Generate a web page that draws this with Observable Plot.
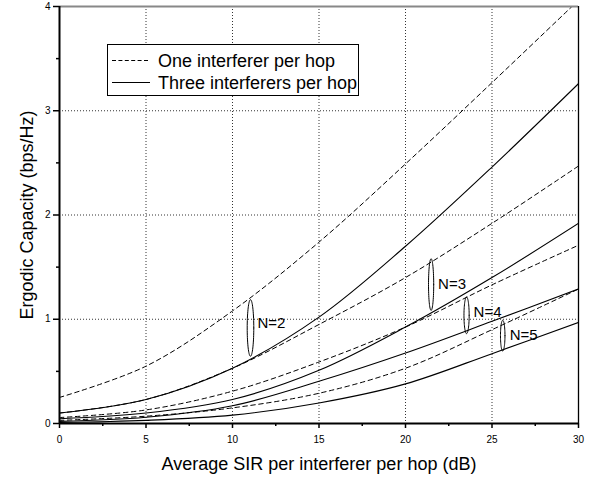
<!DOCTYPE html>
<html><head><meta charset="utf-8">
<script src="https://cdn.jsdelivr.net/npm/d3@7"></script>
<script src="https://cdn.jsdelivr.net/npm/@observablehq/plot@0.6"></script>
<style>
body{margin:0;background:#fff;}
#wrap{position:relative;width:595px;height:478px;font-family:"Liberation Sans",Arial,sans-serif;}
#legend{position:absolute;left:0;top:0;pointer-events:none;}
</style></head>
<body><div id="wrap"></div>
<script>
// x values (Average SIR per interferer per hop, dB)
const sirDb = [0, 5, 10, 15, 20, 25, 30];
// One interferer per hop (dashed)
const oneN2 = [0.25, 0.55, 1.08, 1.74, 2.49, 3.27, 4.06];
const oneN3 = [0.10, 0.23, 0.53, 0.95, 1.40, 1.92, 2.47];
const oneN4 = [0.057, 0.13, 0.31, 0.59, 0.925, 1.33, 1.71];
const oneN5 = [0.03, 0.07, 0.15, 0.29, 0.53, 0.90, 1.29];
// Three interferers per hop (solid)
const threeN2 = [0.10, 0.23, 0.53, 1.02, 1.70, 2.46, 3.26];
const threeN3 = [0.045, 0.10, 0.23, 0.51, 0.925, 1.40, 1.92];
const threeN4 = [0.02, 0.06, 0.17, 0.405, 0.676, 0.98, 1.29];
const threeN5 = [0.01, 0.03, 0.08, 0.197, 0.38, 0.67, 0.97];

const xTicks = [0, 5, 10, 15, 20, 25, 30];
const xMinor = [2.5, 7.5, 12.5, 17.5, 22.5, 27.5];
const yTicks = [0, 1, 2, 3, 4];
const yMinor = [0.5, 1.5, 2.5, 3.5];

// N= annotations (ellipse around the pair of curves)
const annLabels = ["N=2", "N=3", "N=4", "N=5"];
const annX = [11.04, 21.48, 23.53, 25.62];
const annLow = [0.645, 1.085, 0.862, 0.695];
const annHigh = [1.188, 1.58, 1.213, 0.99];
const annTextY = [0.965, 1.34, 1.066, 0.846];
const annRx = [0.19, 0.15, 0.15, 0.13];

const xLabel = "Average SIR per interferer per hop (dB)";
const yLabel = "Ergodic Capacity (bps/Hz)";
const legendLabels = ["One interferer per hop", "Three interferers per hop"];

const series = [
  {type: "one", n: 2, vals: oneN2}, {type: "one", n: 3, vals: oneN3},
  {type: "one", n: 4, vals: oneN4}, {type: "one", n: 5, vals: oneN5},
  {type: "three", n: 2, vals: threeN2}, {type: "three", n: 3, vals: threeN3},
  {type: "three", n: 4, vals: threeN4}, {type: "three", n: 5, vals: threeN5}
];
const rows = [];
series.forEach(s => sirDb.forEach((x, i) => rows.push({x, y: s.vals[i], type: s.type, n: s.n})));

const ellipsePts = [];
annLabels.forEach((lab, i) => {
  const cy = (annLow[i] + annHigh[i]) / 2, ry = (annHigh[i] - annLow[i]) / 2;
  for (let k = 0; k <= 72; k++) {
    const t = 2 * Math.PI * k / 72;
    ellipsePts.push({lab, x: annX[i] + annRx[i] * Math.cos(t), y: cy + ry * Math.sin(t)});
  }
});

const chart = Plot.plot({
  width: 595, height: 478,
  marginLeft: 59, marginRight: 17, marginTop: 6, marginBottom: 55,
  x: {domain: [0, 30]},
  y: {domain: [0, 4]},
  style: {fontFamily: '"Liberation Sans", Arial, sans-serif', fontSize: "10px", background: "white", color: "black"},
  marks: [
    Plot.gridX(xTicks.slice(1, -1), {stroke: "#000", strokeOpacity: 0.8, strokeDasharray: "1,2"}),
    Plot.gridY(yTicks.slice(1, -1), {stroke: "#000", strokeOpacity: 0.8, strokeDasharray: "1,2"}),
    Plot.line(rows.filter(d => d.type === "one"), {x: "x", y: "y", z: "n", curve: "catmull-rom", stroke: "#000", strokeWidth: 1, strokeDasharray: "4.5,3.5", clip: true}),
    Plot.line(rows.filter(d => d.type === "three"), {x: "x", y: "y", z: "n", curve: "catmull-rom", stroke: "#000", strokeWidth: 1.1, clip: true}),
    Plot.line(ellipsePts, {x: "x", y: "y", z: "lab", stroke: "#000", strokeWidth: 1}),
    Plot.text(annLabels, {x: annX, y: annTextY, text: annLabels, dx: 7, textAnchor: "start", fontSize: 15}),
    Plot.ruleY([4], {stroke: "#888", strokeWidth: 2}),
    Plot.ruleX([30], {stroke: "#000", strokeWidth: 1.3}),
    Plot.ruleX([0], {stroke: "#000", strokeWidth: 2}),
    Plot.ruleY([0], {stroke: "#000", strokeWidth: 2}),
    Plot.axisX(xTicks, {tickSize: 5, tickPadding: 7, strokeWidth: 1.5, label: null, fontSize: 10, tickFormat: d => String(d)}),
    Plot.axisX(xMinor, {tickSize: 3, strokeWidth: 1.5, tickFormat: () => "", label: null}),
    Plot.axisY(yTicks, {tickSize: 6, tickPadding: 3, strokeWidth: 1.5, label: null, fontSize: 10, tickFormat: d => String(d)}),
    Plot.axisY(yMinor, {tickSize: 3, strokeWidth: 1.5, tickFormat: () => "", label: null}),
    Plot.text([xLabel], {frameAnchor: "bottom", textAnchor: "middle", dy: 40.5, fontSize: 18, lineAnchor: "middle", text: d => d}),
    Plot.text([yLabel], {frameAnchor: "left", textAnchor: "middle", rotate: -90, dx: -32.4, fontSize: 18, lineAnchor: "middle", text: d => d})
  ]
});
document.getElementById("wrap").appendChild(chart);

// legend overlay
const ns = "http://www.w3.org/2000/svg";
const lg = document.createElementNS(ns, "svg");
lg.setAttribute("id", "legend");
lg.setAttribute("width", 595); lg.setAttribute("height", 478);
lg.innerHTML = `
  <rect x="107.5" y="44.5" width="251" height="51" fill="#fff" stroke="#000" stroke-width="1"/>
  <line x1="112" x2="150" y1="60.5" y2="60.5" stroke="#000" stroke-width="1" stroke-dasharray="4,2.4"/>
  <line x1="112" x2="150" y1="82.5" y2="82.5" stroke="#000" stroke-width="1"/>
  <text x="158" y="66.7" font-size="18" font-family="Liberation Sans, Arial, sans-serif">${legendLabels[0]}</text>
  <text x="158" y="89" font-size="18" font-family="Liberation Sans, Arial, sans-serif">${legendLabels[1]}</text>`;
document.getElementById("wrap").appendChild(lg);
</script>
</body></html>
